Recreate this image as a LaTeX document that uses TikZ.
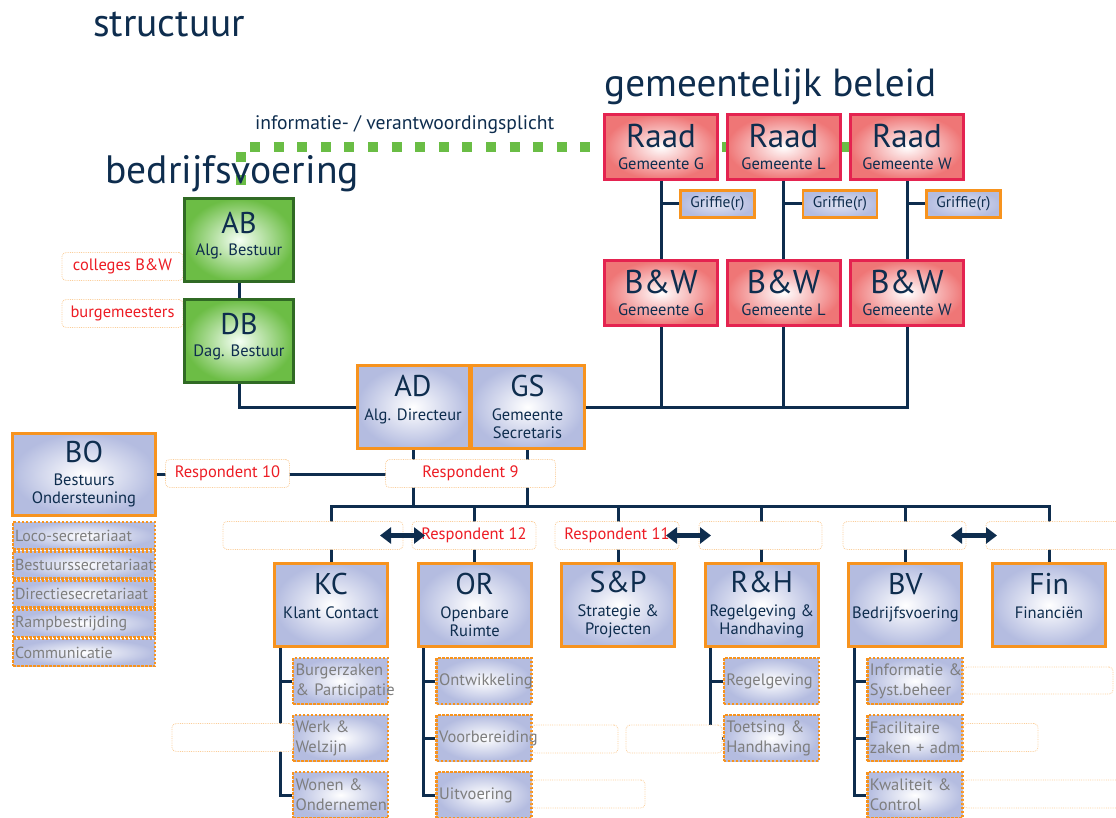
\documentclass[tikz,border=0pt]{standalone}
\usepackage{fontspec}
\setmainfont{PT Sans}
\usetikzlibrary{arrows.meta}
\definecolor{navy}{HTML}{0E2D4E}
\definecolor{raadrood}{HTML}{EF7676}
\definecolor{raadrand}{HTML}{E42350}
\definecolor{abgroen}{HTML}{6CBD45}
\definecolor{abrand}{HTML}{306A24}
\definecolor{eenheid}{HTML}{B4BCE0}
\definecolor{oranje}{HTML}{F7931E}
\definecolor{resrood}{HTML}{ED1C24}
\definecolor{subgrijs}{HTML}{7E7E7E}
\definecolor{stipgroen}{HTML}{6ABD45}
\newcommand{\groot}{\fontsize{30}{30}\selectfont}
\newcommand{\klein}{\fontsize{16.5}{18}\selectfont}
\tikzset{
  lijn/.style={draw=navy, line width=3pt},
  kop/.style={anchor=base west, inner sep=0pt, text=navy},
  vak/.style={line width=3pt, inner sep=0pt, align=center, text=navy, font=\klein, shading=radial, inner color=white},
  raadvak/.style={vak, draw=raadrand, outer color=raadrood, minimum width=113pt, minimum height=65pt},
  abvak/.style={vak, draw=abrand, outer color=abgroen, inner color=green!4!white, minimum width=109pt, minimum height=83pt},
  eenheidvak/.style={vak, draw=oranje, outer color=eenheid, minimum width=113pt, minimum height=83pt},
  griffievak/.style={vak, draw=oranje, line width=2.5pt, outer color=eenheid, inner color=eenheid!40, minimum width=74pt, minimum height=27pt, font=\fontsize{15.5}{15.5}\selectfont},
  subvak/.style={draw=oranje, line width=2.5pt, dash pattern=on 2.5pt off 1.5pt, shading=radial, inner color=white, outer color=eenheid, minimum width=95pt, minimum height=46pt, text width=90pt, align=left, inner sep=2.5pt, text=subgrijs, font=\fontsize{16.5}{20}\selectfont},
  bosub/.style={subvak, minimum width=142pt, minimum height=27pt, text width=138pt, inner sep=2pt, font=\fontsize{16}{16}\selectfont},
  resvak/.style={draw=oranje!45, line width=0.8pt, densely dotted, rounded corners=4pt, fill=white, minimum height=28pt, inner sep=0pt, text=resrood, font=\klein},
  pijl/.style={draw=navy, line width=5pt, arrows={Triangle[width=16pt,length=11pt]-Triangle[width=16pt,length=11pt]}},
}
\begin{document}
\begin{tikzpicture}[x=1pt, y=-1pt, line join=miter]
\useasboundingbox (0,0) rectangle (1116,818);
\draw[stipgroen, line width=10pt, dash pattern=on 10pt off 13.6pt, dash phase=18.8pt] (241,190) -- (241,147) -- (880,147);
\node[kop, font=\fontsize{39.5}{40}\selectfont] (titel) at (93,37) {structuur};
\node[kop, font=\fontsize{19.6}{20}\selectfont] (info) at (255,130) {informatie- / verantwoordingsplicht};
\node[kop, font=\fontsize{39.2}{40}\selectfont] (gb) at (604,97) {gemeentelijk beleid};
\node[kop, font=\fontsize{39.6}{40}\selectfont] (bvkop) at (105,184) {bedrijfsvoering};
\foreach \g/\x in {G/661,L/783.5,W/907} {
  \node[raadvak] (raad\g) at (\x,147) {{\fontsize{33}{33}\selectfont Raad}\\[4pt]Gemeente \g};
  \node[raadvak] (bw\g) at (\x,293) {{\fontsize{33}{33}\selectfont B\&W}\\[4pt]Gemeente \g};
  \node[griffievak] (griffie\g) at (\x+56.5,204) {Griffie(r)};
  \draw[lijn] (raad\g) -- (bw\g);
  \draw[lijn] (griffie\g.west) -- (griffie\g.west -| raad\g.south);
}
\node[resvak, minimum width=121pt] (colleges) at (122.5,266.5) {colleges B\&W};
\node[resvak, minimum width=121pt] (burgemeesters) at (122.5,313.5) {burgemeesters};
\node[abvak] (ab) at (239,240) {{\groot AB}\\[4pt]Alg. Bestuur\\[-6pt]\mbox{}};
\node[abvak] (db) at (239,341) {{\groot DB}\\[4pt]Dag. Bestuur\\[-6pt]\mbox{}};
\node[eenheidvak, minimum width=112pt] (ad) at (413,407) {{\groot AD}\\[6pt]Alg. Directeur\\\mbox{}};
\node[eenheidvak] (gs) at (527.5,407) {{\groot GS}\\[6pt]Gemeente\\Secretaris};
\node[eenheidvak, minimum width=143pt, minimum height=82pt] (bo) at (84,474.5) {{\groot BO}\\[5pt]Bestuurs\\Ondersteuning};
\foreach \tekst [count=\j] in {Loco-secretariaat,Bestuurssecretariaat,Directiesecretariaat,Rampbestrijding,Communicatie}
  \node[bosub] (bo\j) at (84,506.25+29.25*\j) {\tekst};
\coordinate (bus) at (0,506);
\foreach \naam/\kort/\regela/\regelb [count=\i] in {kc/KC/Klant Contact/{}, or/OR/Openbare/Ruimte, sp/S\&P/Strategie \&/Projecten, rh/R\&H/Regelgeving \&/Handhaving, bv/BV/Bedrijfsvoering/{}, fin/Fin/Financiën/{}} {
  \pgfmathsetmacro{\x}{331+143.6*(\i-1)}
  \node[eenheidvak] (\naam) at (\x,605) {{\groot \kort}\\[6pt]\regela\\\mbox{}\regelb};
  \draw[lijn] (\naam.north) -- (\naam.north |- bus);
}
\foreach \naam/\lijst in {kc/{\mbox{Burgerzaken}\\\mbox{\& Participatie},\mbox{Werk \&}\\\mbox{Welzijn},\mbox{Wonen \&}\\\mbox{Ondernemen}}, or/{\mbox{Ontwikkeling},\mbox{Voorbereiding},\mbox{Uitvoering}}, rh/{\mbox{Regelgeving},\mbox{Toetsing \&}\\\mbox{Handhaving}}, bv/{\mbox{Informatie \&}\\\mbox{Syst.beheer},\mbox{Facilitaire}\\\mbox{zaken + adm.},\mbox{Kwaliteit \&}\\\mbox{Control}}} {
  \foreach \tekst [count=\j] in \lijst {
    \node[subvak] (\naam\j) at ([xshift=9.5pt, yshift=-19pt-57pt*\j]\naam.center) {\tekst};
    \draw[lijn] ([xshift=7pt]\naam.south west) |- (\naam\j.west);
  }
}
\draw[lijn] (ab) -- (db);
\draw[lijn] (db.south) |- (ad.west);
\draw[lijn] (bwW.south) |- (gs.east);
\draw[lijn] (bwG.south) -- (bwG.south |- gs.east);
\draw[lijn] (bwL.south) -- (bwL.south |- gs.east);
\draw[lijn] (bo.east) -- (bo.east -| ad.south);
\draw[lijn] (ad.south) -- (ad.south |- bus);
\draw[lijn] (gs.south) -- (gs.south |- bus);
\draw[lijn] (kc.north) |- (fin.north |- bus) -- (fin.north);
\node[resvak, minimum width=124pt] (resp10) at (227.5,473.5) {Respondent 10};
\node[resvak, minimum width=170pt] (resp9) at (470.5,473.5) {Respondent 9};
\node[resvak, minimum width=180pt] (leeg1) at (313,535.5) {};
\node[resvak, minimum width=124pt] (resp12) at (474,535.5) {Respondent 12};
\node[resvak, minimum width=124pt] (resp11) at (617,535.5) {Respondent 11};
\node[resvak, minimum width=123pt] (leeg2) at (760.5,535.5) {};
\node[resvak, minimum width=123pt] (leeg3) at (904.5,535.5) {};
\node[resvak, minimum width=150pt] (leeg4) at (1061,535.5) {};
\node[resvak, minimum width=121pt] (leeg5) at (232.5,737.5) {};
\node[resvak, minimum width=87pt, fill=none] (leeg6) at (574.5,739) {};
\node[resvak, minimum width=96pt] (leeg7) at (674,739) {};
\node[resvak, minimum width=114pt, fill=none] (leeg8) at (588,794) {};
\node[resvak, minimum width=150pt, minimum height=27pt, fill=none] (leeg9) at (1038,680.5) {};
\node[resvak, minimum width=75pt, fill=none] (leeg10) at (1000.5,737.5) {};
\node[resvak, minimum width=166pt, fill=none] (leeg11) at (1046,794) {};
\coordinate (pijl1a) at (380,535.5);
\coordinate (pijl1b) at (425,535.5);
\coordinate (pijl2a) at (666,535.5);
\coordinate (pijl2b) at (711,535.5);
\coordinate (pijl3a) at (951,535.5);
\coordinate (pijl3b) at (997,535.5);
\draw[pijl] (pijl1a) -- (pijl1b);
\draw[pijl] (pijl2a) -- (pijl2b);
\draw[pijl] (pijl3a) -- (pijl3b);
\end{tikzpicture}
\end{document}
